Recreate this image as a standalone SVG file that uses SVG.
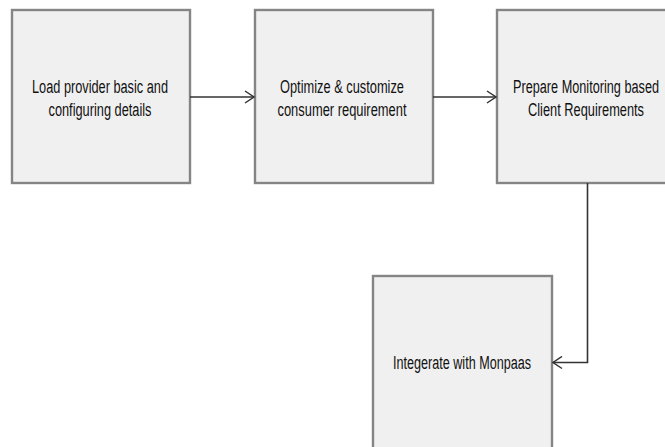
<svg xmlns="http://www.w3.org/2000/svg" width="665" height="447" viewBox="0 0 665 447">
<defs>
<style>
.box{fill:#f0f0f0;stroke:#858585;stroke-width:2.4}
.lbl{font-family:"Liberation Sans",Arial,sans-serif;font-size:18px;fill:#111;text-anchor:middle}
.con{fill:none;stroke:#333;stroke-width:1.6}
</style>
<marker id="arr" markerWidth="12" markerHeight="14" refX="10" refY="7" orient="auto" markerUnits="userSpaceOnUse">
<path d="M1,1 L10,7 L1,13" fill="none" stroke="#333" stroke-width="1.5"/>
</marker>
</defs>
<rect width="665" height="447" fill="#fff"/>
<g id="n1">
<rect class="box" x="12" y="10" width="178" height="173"/>
<text class="lbl" x="100" y="92.5" textLength="136" lengthAdjust="spacingAndGlyphs">Load provider basic and</text>
<text class="lbl" x="100" y="115.5" textLength="103" lengthAdjust="spacingAndGlyphs">configuring details</text>
</g>
<g id="n2">
<rect class="box" x="255" y="10" width="178" height="173"/>
<text class="lbl" x="342" y="92.5" textLength="124" lengthAdjust="spacingAndGlyphs">Optimize &amp; customize</text>
<text class="lbl" x="342" y="115.5" textLength="129" lengthAdjust="spacingAndGlyphs">consumer requirement</text>
</g>
<g id="n3">
<rect class="box" x="497" y="10" width="178" height="173"/>
<text class="lbl" x="586" y="92.5" textLength="146" lengthAdjust="spacingAndGlyphs">Prepare Monitoring based</text>
<text class="lbl" x="586" y="115.5" textLength="116" lengthAdjust="spacingAndGlyphs">Client Requirements</text>
</g>
<g id="n4">
<rect class="box" x="373" y="276" width="179" height="180"/>
<text class="lbl" x="462" y="369" textLength="138" lengthAdjust="spacingAndGlyphs">Integerate with Monpaas</text>
</g>
<g id="connectors">
<path class="con" d="M190,97 H254" marker-end="url(#arr)"/>
<path class="con" d="M433,97 H496" marker-end="url(#arr)"/>
<path class="con" d="M587.5,183 V362.5 H553" marker-end="url(#arr)"/>
</g>
</svg>
